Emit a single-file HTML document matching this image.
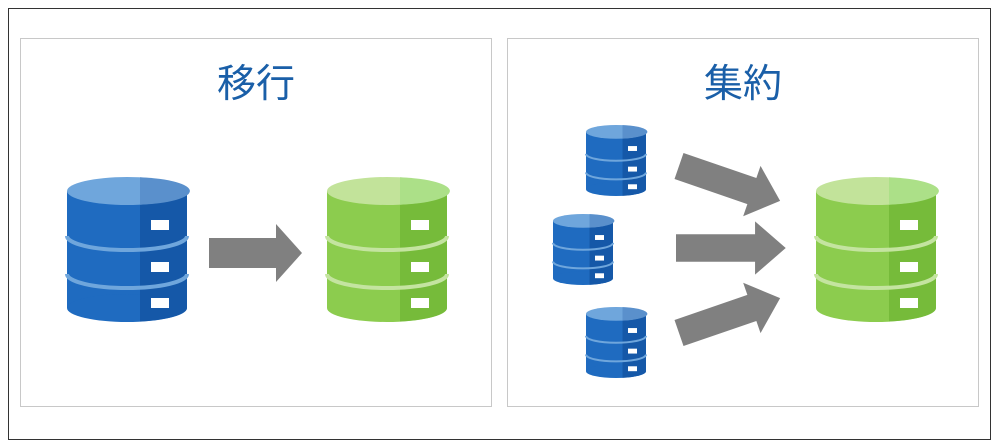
<!DOCTYPE html>
<html><head><meta charset="utf-8"><style>
html,body{margin:0;padding:0;background:#fff;}
svg{display:block}
text{font-family:"Liberation Sans","Noto Sans CJK JP",sans-serif;}
</style></head><body>
<svg width="1000" height="448" viewBox="0 0 1000 448" xmlns="http://www.w3.org/2000/svg">
<defs>
<g id="dbb">
  <rect x="0" y="14" width="120" height="117" fill="#1f6bc0"/>
  <ellipse cx="60" cy="131" rx="60" ry="14" fill="#1f6bc0"/>
  <path d="M73 14 L120 14 L120 131 A60 14 0 0 1 73 144.5 Z" fill="#1558a8"/>
  <path d="M0 59 A60 14 0 0 0 120 59" fill="none" stroke="#6fa6dc" stroke-width="4"/>
  <path d="M0 97 A60 14 0 0 0 120 97" fill="none" stroke="#6fa6dc" stroke-width="4"/>
  <ellipse cx="60" cy="14" rx="60" ry="14" fill="#6fa6dc"/>
  <path d="M73 0.2 A60 14 0 0 1 73 27.8 Z" fill="#5a90cc"/>
  <rect x="84" y="43" width="18" height="10" fill="#fff"/>
  <rect x="84" y="85" width="18" height="10" fill="#fff"/>
  <rect x="84" y="121" width="18" height="10" fill="#fff"/>
</g>
<g id="dbg">
  <rect x="0" y="14" width="120" height="117" fill="#8ccc4e"/>
  <ellipse cx="60" cy="131" rx="60" ry="14" fill="#8ccc4e"/>
  <path d="M73 14 L120 14 L120 131 A60 14 0 0 1 73 144.5 Z" fill="#76bb3a"/>
  <path d="M0 59 A60 14 0 0 0 120 59" fill="none" stroke="#c4e4a0" stroke-width="4"/>
  <path d="M0 97 A60 14 0 0 0 120 97" fill="none" stroke="#c4e4a0" stroke-width="4"/>
  <ellipse cx="60" cy="14" rx="60" ry="14" fill="#c2e39a"/>
  <path d="M73 0.2 A60 14 0 0 1 73 27.8 Z" fill="#ace088"/>
  <rect x="84" y="43" width="18" height="10" fill="#fff"/>
  <rect x="84" y="85" width="18" height="10" fill="#fff"/>
  <rect x="84" y="121" width="18" height="10" fill="#fff"/>
</g>
<path id="arr" d="M0 -15 L67 -15 L67 -29 L93 0 L67 29 L67 15 L0 15 Z" fill="#808080"/>
</defs>
<rect x="8.5" y="8.5" width="982" height="431" fill="#fff" stroke="#333" stroke-width="1"/>
<rect x="20.5" y="38.5" width="471" height="368" fill="#fff" stroke="#c8c8c8"/>
<rect x="507.5" y="38.5" width="471" height="368" fill="#fff" stroke="#c8c8c8"/>
<text x="256" y="97" font-size="39" fill="#1a5fa8" text-anchor="middle">移行</text>
<text x="743" y="97" font-size="39" fill="#1a5fa8" text-anchor="middle">集約</text>
<use href="#dbb" x="67" y="177"/>
<use href="#dbg" x="327" y="177"/>
<use href="#dbg" x="816" y="177"/>
<use href="#dbb" transform="translate(586,125) scale(0.5,0.49)"/>
<use href="#dbb" transform="translate(553,214) scale(0.5,0.49)"/>
<use href="#dbb" transform="translate(586,307) scale(0.5,0.49)"/>
<use href="#arr" transform="translate(209,253)"/>
<use href="#arr" transform="translate(676,248) scale(1.18,0.92)"/>
<use href="#arr" transform="translate(679,166) rotate(19) scale(1.15,0.92)"/>
<use href="#arr" transform="translate(679,333) rotate(-19) scale(1.15,0.92)"/>
</svg>
</body></html>
